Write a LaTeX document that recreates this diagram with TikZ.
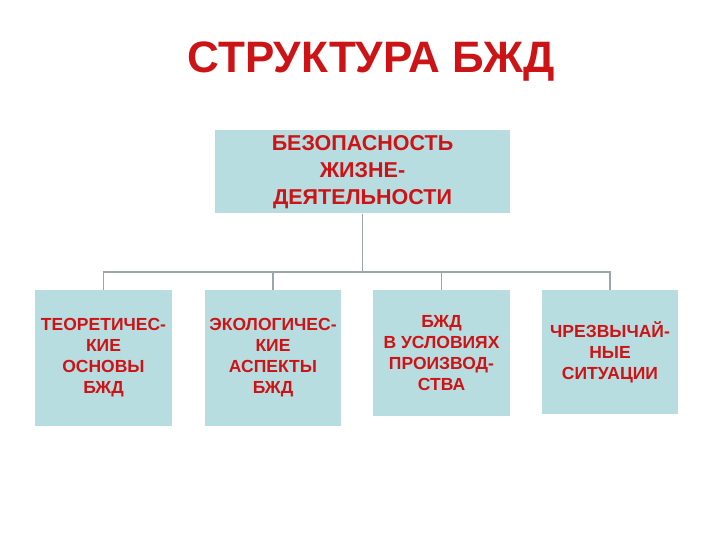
\documentclass[tikz,border=0pt]{standalone}
\usepackage{fontspec}
\setmainfont{Liberation Sans}
\usepackage{xcolor}
\usepackage{tikz}
\usetikzlibrary{positioning}
\definecolor{redt}{HTML}{CC1417}
\definecolor{tealbg}{HTML}{B8DDE0}
\definecolor{linex}{HTML}{9AA6A9}
\tikzset{
  conn/.style={linex,line width=1.3pt},
  box/.style={fill=tealbg,text=redt,align=center,inner sep=0pt,font=\fontsize{17.5}{21}\selectfont\bfseries},
  ttl/.style={text=redt,font=\fontsize{44}{50}\selectfont\bfseries}
}

\begin{document}
\begin{tikzpicture}[x=1pt,y=-1pt]
\useasboundingbox (0,0) rectangle (720,540);
\node[ttl] (title) at (371,62) {СТРУКТУРА БЖД};
\node[box,minimum width=295pt,minimum height=83pt,font=\fontsize{21.5}{27}\selectfont\bfseries] (bzd) at (362.5,172)
  {БЕЗОПАСНОСТЬ\\ЖИЗНЕ-\\ДЕЯТЕЛЬНОСТИ};
\node[box,minimum width=137pt,minimum height=136pt] (teor) at (103.5,358) {ТЕОРЕТИЧЕС-\\КИЕ\\ОСНОВЫ\\БЖД};
\node[box,minimum width=136pt,minimum height=136pt] (ekol) at (273,358) {ЭКОЛОГИЧЕС-\\КИЕ\\АСПЕКТЫ\\БЖД};
\node[box,minimum width=137pt,minimum height=126pt] (proizv) at (441.5,353) {БЖД\\В УСЛОВИЯХ\\ПРОИЗВОД-\\СТВА};
\node[box,minimum width=136pt,minimum height=124pt] (chs) at (610,352) {ЧРЕЗВЫЧАЙ-\\НЫЕ\\СИТУАЦИИ};
% shina
\coordinate (bus) at (362.5,272);
\draw[conn] (bzd.south) -- (bus);
\foreach \b in {teor,ekol,proizv,chs}
  \draw[conn] (\b.north) |- (bus);
\end{tikzpicture}
\end{document}
